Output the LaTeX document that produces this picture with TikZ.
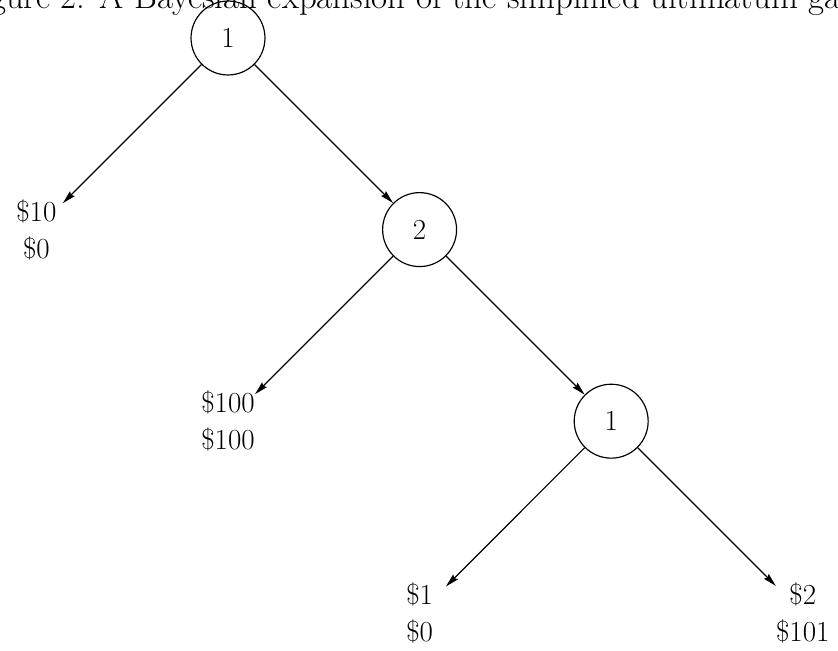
\documentclass[tikz,border=0pt]{standalone}
\usepackage{tikz}
\usetikzlibrary{arrows.meta, positioning}

\begin{document}
\begin{tikzpicture}[
    x=0.595pt, y=-0.595pt,
    node distance=114pt and 114pt, on grid,
    player/.style={draw, circle, minimum size=44pt, inner sep=0pt, line width=0.7pt, font=\fontsize{17.28}{22}\selectfont},
    payoff/.style={align=center, inner sep=0pt, minimum width=31pt, font=\fontsize{17.28}{22}\selectfont},
    move/.style={draw, line width=0.7pt, -{Stealth[length=8pt, width=4pt, inset=1pt]}}
]
    \useasboundingbox (0,0) rectangle (838,651);

    \node[anchor=base, font=\fontsize{20.74}{25}\selectfont] (caption) at (421,8) {Figure 2: A Bayesian expansion of the simplified ultimatum game};

    % decision nodes
    \node[player] (root) at (228,38) {1};
    \node[player, below right=of root] (mid) {2};
    \node[player, below right=of mid] (low) {1};

    % payoffs
    \node[payoff, below left=of root] (endA) {\$10\\\$0};
    \node[payoff, below left=of mid] (endB) {\$100\\\$100};
    \node[payoff, below left=of low] (endC) {\$1\\\$0};
    \node[payoff, below right=of low] (endD) {\$2\\\$101};

    \draw[move] (root) -- (endA);
    \draw[move] (root) -- (mid);
    \draw[move] (mid) -- (endB);
    \draw[move] (mid) -- (low);
    \draw[move] (low) -- (endC);
    \draw[move] (low) -- (endD);
\end{tikzpicture}
\end{document}
